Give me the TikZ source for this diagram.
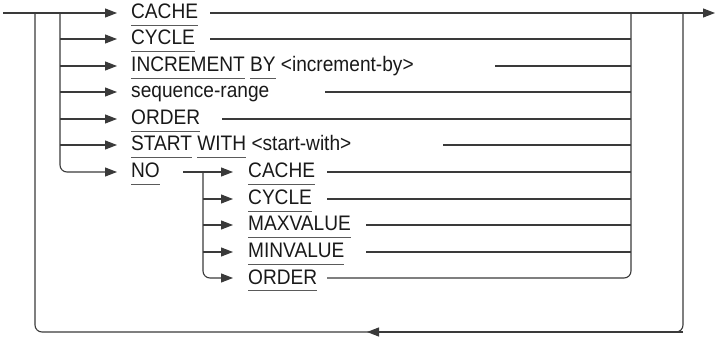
\documentclass[tikz,border=0pt]{standalone}
\usepackage{fontspec}
\setmainfont{Liberation Sans}[FakeStretch=0.91]
\usetikzlibrary{arrows.meta}
\definecolor{ln}{HTML}{3A3A3A}
\definecolor{ulc}{HTML}{5A5A5A}
\newsavebox\kwbox
\newcommand\kw[1]{\sbox\kwbox{#1}\rlap{\textcolor{ulc}{\rule[-7.3pt]{\wd\kwbox}{1pt}}}\usebox\kwbox}
\begin{document}
\begin{tikzpicture}[x=1pt,y=-1pt,
  lbl/.style={anchor=base west, inner sep=0pt, font=\fontsize{21}{24}\selectfont, text=black!90},
  wire/.style={draw=ln, line width=1.1pt},
  tip/.style={wire, -{Triangle[length=12pt,width=9pt]}},
  roundwire/.style={wire, rounded corners=7pt}]
\useasboundingbox (0,0) rectangle (715,339);
% rows
\def\ra{13}\def\rb{39}\def\rc{66}\def\rd{92}\def\re{119}\def\rf{145}\def\rg{172}
\def\rh{199}\def\ri{225}\def\rj{252}\def\rk{278}\def\rbot{332}
% key coordinates
\coordinate (start) at (3,\ra);
\coordinate (end) at (715,\ra);
\coordinate (Lo) at (35,\ra);
\coordinate (Li) at (60,\ra);
\coordinate (Ri) at (631,\ra);
\coordinate (Ro) at (683,\ra);
\coordinate (bl) at (35,\rbot);
\coordinate (br) at (683,\rbot);
\coordinate (bm) at (367,\rbot);
% texts
\node[lbl] (t1) at (131,\ra+6) {\kw{CACHE}};
\node[lbl] (t2) at (131,\rb+6) {\kw{CYCLE}};
\node[lbl] (t3) at (131,\rc+6) {\kw{INCREMENT} \kw{BY} <increment-by>};
\node[lbl] (t4) at (131,\rd+6) {sequence-range};
\node[lbl] (t5) at (131,\re+6) {\kw{ORDER}};
\node[lbl] (t6) at (131,\rf+6) {\kw{START} \kw{WITH} <start-with>};
\node[lbl] (t7) at (131,\rg+6) {\kw{NO}};
\node[lbl] (s1) at (248,\rg+6) {\kw{CACHE}};
\node[lbl] (s2) at (248,\rh+6) {\kw{CYCLE}};
\node[lbl] (s3) at (248,\ri+6) {\kw{MAXVALUE}};
\node[lbl] (s4) at (248,\rj+6) {\kw{MINVALUE}};
\node[lbl] (s5) at (248,\rk+6) {\kw{ORDER}};
% arrow tips before texts
\foreach \n/\y in {1/\ra,2/\rb,3/\rc,4/\rd,5/\re,6/\rf,7/\rg}{
  \coordinate (a\n) at (117,\y);
  \coordinate (l\n) at (60,\y);
  \coordinate (r\n) at (631,\y);
}
\foreach \n/\y in {1/\rg,2/\rh,3/\ri,4/\rj,5/\rk}{
  \coordinate (sa\n) at (233,\y);
  \coordinate (sl\n) at (203,\y);
  \coordinate (sr\n) at (631,\y);
}
% tails after texts
\coordinate (e1) at (210,\ra);
\coordinate (e2) at (210,\rb);
\coordinate (e3) at (495,\rc);
\coordinate (e4) at (325,\rd);
\coordinate (e5) at (222,\re);
\coordinate (e6) at (443,\rf);
\coordinate (e7) at (183,\rg);
\coordinate (se1) at (327,\rg);
\coordinate (se2) at (327,\rh);
\coordinate (se3) at (366,\ri);
\coordinate (se4) at (366,\rj);
\coordinate (se5) at (327,\rk);
% main line
\draw[tip] (start) -- (a1);
\draw[tip] (e1) -- (end);
% outer loop
\draw[roundwire] (Ro) -- (br) -- (bl) -- (Lo);
\draw[tip] (br) -- (bm);
% inner left branches
\draw[roundwire, -{Triangle[length=12pt,width=9pt]}] (Li) |- (a7);
\foreach \n in {2,...,6}{ \draw[tip] (l\n) -- (a\n); }
% right collectors
\foreach \n in {2,...,6}{ \draw[wire] (e\n) -- (r\n); }
\draw[roundwire] (Ri) |- (se5);
% NO sub-branch
\draw[tip] (e7) -- (sa1);
\draw[roundwire, -{Triangle[length=12pt,width=9pt]}] (sl1) |- (sa5);
\foreach \n in {2,3,4}{ \draw[tip] (sl\n) -- (sa\n); }
\foreach \n in {1,...,4}{ \draw[wire] (se\n) -- (sr\n); }
\end{tikzpicture}
\end{document}
